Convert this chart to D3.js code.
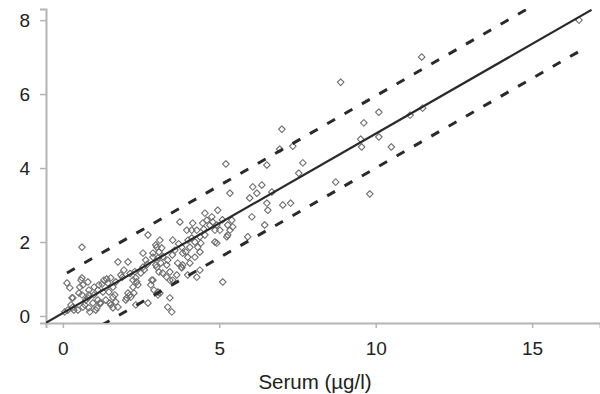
<!DOCTYPE html>
<html>
<head>
<meta charset="utf-8">
<script src="https://cdn.jsdelivr.net/npm/d3@7"></script>
<style>
  html, body { margin: 0; padding: 0; background: #fff; }
  svg { display: block; }
  text { font-family: "Liberation Sans", Arial, sans-serif; fill: #222; }
</style>
</head>
<body>
<svg id="chart" width="600" height="394"></svg>
<script>
// ---- data ----
const serum = [
  0.61,0.13,0.22,0.32,0.26,0.35,0.51,0.58,0.64,0.80,0.83,0.73,0.64,0.83,0.96,1.05,1.12,0.99,1.15,1.31,
  1.44,1.53,1.60,1.69,1.76,2.08,1.95,1.85,1.47,1.60,1.69,1.53,1.76,2.01,2.08,2.17,2.27,2.24,2.40,2.33,
  2.49,2.56,2.65,2.56,2.72,2.97,3.07,2.88,2.97,3.13,3.07,2.88,2.81,2.91,2.72,2.33,1.12,1.28,1.37,1.21,
  0.83,5.21,5.34,6.07,6.36,6.20,5.97,6.52,6.55,6.04,6.45,5.91,4.95,4.76,4.54,4.60,4.79,4.47,4.15,4.12,
  3.74,3.96,4.28,4.38,4.54,5.02,5.27,5.34,5.24,5.43,4.86,4.92,4.12,4.22,3.51,3.10,3.00,3.16,3.58,3.80,
  4.06,3.83,4.31,4.38,4.22,4.06,2.88,3.04,3.35,3.67,3.83,3.80,3.32,3.00,3.42,3.19,3.64,4.38,3.99,4.28,
  3.42,3.35,3.48,3.04,3.32,3.51,5.11,0.61,0.54,0.32,0.61,0.80,0.70,0.48,0.16,0.06,0.86,1.09,1.50,1.60,
  1.66,2.04,2.14,2.24,2.36,3.04,7.00,6.93,7.35,7.67,7.54,6.52,6.68,7.03,7.28,8.72,8.88,9.62,10.10,9.52,
  9.55,10.10,10.50,11.10,11.50,11.47,9.81,16.50,4.41,3.93,3.99,5.27,5.40,4.92,4.86,
  1.18,3.10,3.42,2.84,3.80,0.29,1.00,1.25,1.40,1.90,2.15,2.30,2.60,2.70,3.20,3.50,3.70,4.00,4.50,4.70,5.10
];
const measured = [
  1.86,0.89,0.76,0.49,0.30,0.16,0.62,0.97,0.84,0.92,0.70,0.43,0.24,0.22,0.35,0.16,0.43,0.57,0.84,0.97,
  0.89,1.03,0.78,0.92,1.46,1.46,1.24,1.11,0.65,0.51,0.38,0.30,0.24,0.43,0.62,0.51,0.62,0.78,0.84,1.03,
  1.16,1.32,1.51,1.70,2.19,1.92,1.73,1.59,1.38,1.43,1.19,0.97,0.84,0.70,0.35,0.30,0.70,0.65,0.43,0.35,
  0.57,4.11,3.32,3.49,3.54,3.32,3.19,3.05,2.86,2.68,2.46,2.14,2.86,2.68,2.78,2.59,2.54,2.51,2.51,2.32,
  2.54,2.32,2.32,2.14,2.19,2.32,2.46,2.32,2.14,2.41,2.00,1.97,2.11,2.00,2.05,2.05,1.86,1.84,1.78,1.86,
  1.86,1.70,1.86,1.73,1.59,1.43,1.70,1.57,1.51,1.43,1.38,1.30,1.38,1.32,1.19,1.16,1.11,1.24,1.11,1.05,
  0.49,0.24,0.11,0.65,1.05,0.97,0.92,1.03,0.78,0.24,0.57,0.49,0.30,0.16,0.16,0.11,0.11,0.22,0.35,0.22,
  0.57,0.49,0.57,0.97,0.92,0.57,5.05,4.51,4.59,4.14,3.86,4.08,3.35,3.00,3.05,3.62,6.32,5.22,5.51,4.78,
  4.57,4.84,4.57,5.43,5.62,7.00,3.30,8.00,1.97,1.73,1.59,2.19,2.59,2.46,2.32,
  0.35,0.62,0.97,0.97,1.32,0.49,0.78,0.86,1.00,1.05,1.15,1.20,1.25,1.40,1.60,1.65,1.95,2.05,2.35,2.45,2.60
];
const xTicks = [0, 5, 10, 15];
const yTicks = [0, 2, 4, 6, 8];
const xTitle = "Serum (µg/l)";
// regression line and prediction band: [intercept, slope, xStart, xEnd]
const fitLine   = [0.08, 0.485, -0.7, 16.9];
const upperBand = [1.10, 0.485, 0.13, 16.5];
const lowerBand = [-0.85, 0.485, 0.13, 16.5];

// ---- chart ----
const svg = d3.select("#chart");
const x = d3.scaleLinear().domain([-0.54, 17.17]).range([46, 600]);
const y = d3.scaleLinear().domain([-0.19, 8.3]).range([323, 9]);
const axisColor = "#b4b4b4";

svg.append("defs").append("clipPath").attr("id", "plot")
  .append("rect").attr("x", 46).attr("y", 9).attr("width", 554).attr("height", 314);

// axes
const gx = svg.append("g").attr("transform", `translate(0,${y.range()[0]})`)
  .call(d3.axisBottom(x).tickValues(xTicks).tickSize(5).tickPadding(14).tickFormat(d3.format("d")));
const gy = svg.append("g").attr("transform", `translate(${x.range()[0]},0)`)
  .call(d3.axisLeft(y).tickValues(yTicks).tickSize(6).tickPadding(10).tickFormat(d3.format("d")));
[gx, gy].forEach(g => {
  g.select(".domain").attr("stroke", axisColor).attr("stroke-width", 2);
  g.selectAll(".tick line").attr("stroke", axisColor).attr("stroke-width", 1.5);
  g.selectAll(".tick text").attr("font-size", 19).attr("fill", "#222")
    .attr("font-family", "'Liberation Sans', Arial, sans-serif");
});

svg.append("text").attr("x", 315).attr("y", 389).attr("text-anchor", "middle")
  .attr("font-size", 20.5).text(xTitle);

// points
const pts = serum.map((s, i) => [s, measured[i]]);
const sym = d3.symbol().type(d3.symbolSquare).size(22);
svg.append("g").selectAll("path").data(pts).join("path")
  .attr("d", sym)
  .attr("transform", d => `translate(${x(d[0])},${y(d[1])}) rotate(45)`)
  .attr("fill", "none").attr("stroke", "#6e6e6e").attr("stroke-width", 1.1)
  .attr("stroke-linejoin", "round");

// lines
const lineGen = d3.line().x(d => x(d[0])).y(d => y(d[1]));
function seg(p) { return [[p[2], p[0] + p[1] * p[2]], [p[3], p[0] + p[1] * p[3]]]; }
const lg = svg.append("g").attr("clip-path", "url(#plot)");
lg.append("path").attr("d", lineGen(seg(fitLine)))
  .attr("stroke", "#2a2a2a").attr("stroke-width", 2.2).attr("fill", "none");
[upperBand, lowerBand].forEach(b => {
  lg.append("path").attr("d", lineGen(seg(b)))
    .attr("stroke", "#2a2a2a").attr("stroke-width", 3).attr("fill", "none")
    .attr("stroke-dasharray", "9,11");
});
</script>
</body>
</html>
